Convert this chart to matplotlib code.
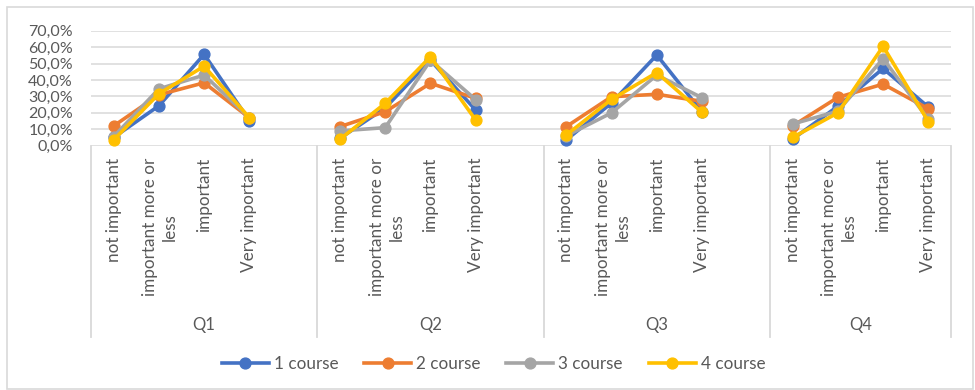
import numpy as np
import matplotlib
matplotlib.use("Agg")
import matplotlib.pyplot as plt
from matplotlib.transforms import blended_transform_factory
from matplotlib.patches import Rectangle
from matplotlib.lines import Line2D

plt.rcParams['font.family'] = ['Lato', 'DejaVu Sans']

# Answer categories within each question; the trailing blank slot separates groups
categories = ["not important", "important more or\nless", "important", "Very important"]
questions = ["Q1", "Q2", "Q3", "Q4"]
series_names = ["1 course", "2 course", "3 course", "4 course"]

# Share of answers (%), 4 values per question, Q1..Q4
course_1 = [5.0, 24.3, 55.6, 15.2,   4.5, 23.0, 52.0, 21.7,   3.5, 26.0, 55.2, 20.5,   4.0, 24.0, 47.0, 23.5]
course_2 = [12.0, 31.0, 38.3, 17.0,  11.6, 20.7, 38.0, 28.8,  11.6, 29.8, 31.3, 27.0,  12.0, 29.4, 37.5, 22.5]
course_3 = [5.5, 34.6, 43.0, 17.0,   9.0, 11.0, 52.0, 28.0,   6.0, 20.0, 43.0, 29.2,   13.2, 21.0, 53.0, 16.0]
course_4 = [3.5, 31.6, 48.4, 17.0,   3.9, 25.8, 54.2, 15.6,   6.5, 28.2, 44.5, 20.3,   5.0, 20.0, 60.5, 14.6]

colors = ["#4472C4", "#ED7D31", "#A5A5A5", "#FFC000"]
text_color = "#595959"
grid_color = "#D9D9D9"

W, H = 975, 390
fig = plt.figure(figsize=(W / 100, H / 100), dpi=100)

# plot area in pixels (from top-left)
x0, x1 = 91, 951
y_top, y_bot = 30.7, 145.7
ax = fig.add_axes([x0 / W, 1 - y_bot / H, (x1 - x0) / W, (y_bot - y_top) / H])

n_per_group = 5
group_sizes = [5, 5, 5, 4]
n_slots = sum(group_sizes)

lw, ms = 2.6, 7.8
all_series = [course_1, course_2, course_3, course_4]
for name, vals, col in zip(series_names, all_series, colors):
    for g in range(len(questions)):
        xs = np.arange(4) + g * n_per_group
        ys = np.array(vals[g * 4:(g + 1) * 4]) / 100.0
        ax.plot(xs, ys, color=col, lw=lw, marker='o', markersize=ms,
                solid_joinstyle='round', label=name if g == 0 else None, zorder=3)

ax.set_xlim(-0.5, n_slots - 0.5)
ax.set_ylim(0, 0.7)
ax.set_yticks(np.arange(0, 0.71, 0.1))
ax.set_yticklabels([f"{v:.1f}%".replace('.', ',') for v in np.arange(0, 71, 10)],
                   fontsize=11.5, color=text_color)
ax.tick_params(axis='y', length=0, pad=13)
ax.set_xticks([])
for s in ax.spines.values():
    s.set_visible(False)
ax.grid(axis='y', color=grid_color, lw=1.1, zorder=0)
ax.set_axisbelow(True)

trans = blended_transform_factory(ax.transData, ax.transAxes)
px = 1.0 / (y_bot - y_top)  # one pixel in axes units (vertical)

# group separators below the axis
bounds = [-0.5]
for gs in group_sizes:
    bounds.append(bounds[-1] + gs)
for b in bounds:
    ax.plot([b, b], [0, -(337 - y_bot) * px], color=grid_color, lw=1.3,
            transform=trans, clip_on=False, zorder=1)

# rotated category labels
label_top = -(158 - y_bot) * px
for g in range(len(questions)):
    for i, c in enumerate(categories):
        xi = g * n_per_group + i
        xoff = 0.03 if "\n" in c else 0.0
        ax.text(xi + xoff, label_top, c, transform=trans, rotation=90,
                rotation_mode='anchor', ha='right', va='center',
                multialignment='center', linespacing=1.3,
                fontsize=12.3, color=text_color)
    mid = (bounds[g] + bounds[g + 1]) / 2
    ax.text(mid, -(325 - y_bot) * px, questions[g], transform=trans,
            ha='center', va='center', fontsize=12, color=text_color)

# legend
handles = [Line2D([], [], color=c, lw=lw, marker='o', markersize=ms) for c in colors]
fig.legend(handles, series_names, loc='center', bbox_to_anchor=(493.5 / W, 1 - 364 / H),
           ncol=4, frameon=False, fontsize=12.3, handlelength=2.75, handletextpad=0.3,
           columnspacing=1.5, labelcolor=text_color, borderaxespad=0)

# chart border
fig.patches.append(Rectangle((7 / W, 1 / H), (973 - 7) / W, (389 - 7) / H,
                             transform=fig.transFigure, fill=False,
                             edgecolor=grid_color, lw=1.2))

fig.savefig("out.png", dpi=100, facecolor='white')
